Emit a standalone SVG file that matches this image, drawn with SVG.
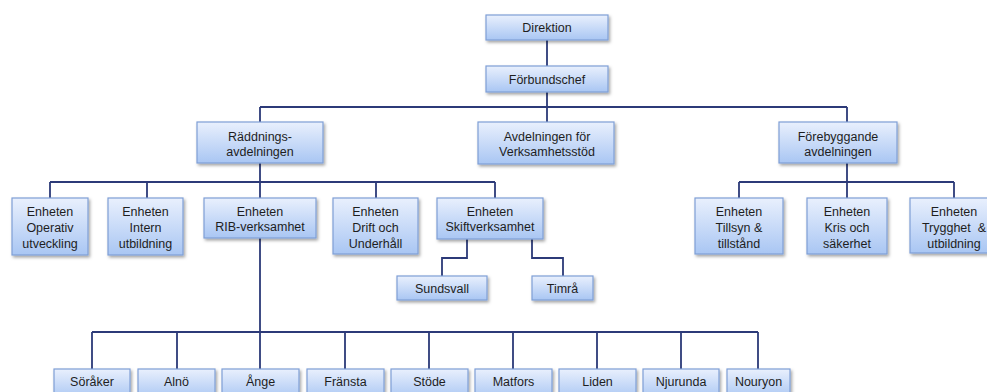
<svg xmlns="http://www.w3.org/2000/svg" width="987" height="392" viewBox="0 0 987 392">
<defs>
<linearGradient id="g" x1="0" y1="0" x2="0" y2="1">
<stop offset="0" stop-color="#e9f0fd"/>
<stop offset="1" stop-color="#a9c6f3"/>
</linearGradient>
<filter id="sh" x="-10%" y="-10%" width="130%" height="140%">
<feDropShadow dx="1.5" dy="2" stdDeviation="1.5" flood-color="#000" flood-opacity="0.35"/>
</filter>
</defs>
<style>
.b{fill:url(#g);stroke:#7f9fd6;stroke-width:1.2;filter:url(#sh)}
.t{font-family:"Liberation Sans",Arial,sans-serif;font-size:12.5px;fill:#1e1e1e;text-anchor:middle}
.c{fill:none;stroke:#2c3a78;stroke-width:1.8}
</style>
<rect width="987" height="392" fill="#fff"/>
<g id="connectors" class="c">
<path d="M547 40V66M547 92V107M260 107H847M260 107V122M547 107V122M847 107V122"/>
<path d="M260 163V182M50 182H495M50 182V198M147 182V198M260 182V198M376 182V198M495 182V198"/>
<path d="M467 239V258H442V276M532 239V258H563V276"/>
<path d="M847 163V182M739 182H954M739 182V198M847 182V198M954 182V198"/>
<path d="M260 238V332M92 332H758M92 332V369M177 332V369M260 332V369M345 332V369M429 332V369M513 332V369M597 332V369M681 332V369M758 332V369"/>
</g>
<g id="direktion"><rect class="b" x="486" y="15" width="122" height="25"/><text class="t" x="547" y="32">Direktion</text></g>
<g id="forbundschef"><rect class="b" x="486" y="66" width="122" height="26"/><text class="t" x="547" y="83.5">Förbundschef</text></g>
<g id="raddning"><rect class="b" x="197" y="122" width="126" height="41"/><text class="t" x="260" y="141">Räddnings-</text><text class="t" x="260" y="156">avdelningen</text></g>
<g id="verksamhetsstod"><rect class="b" x="478" y="122" width="136" height="42"/><text class="t" x="547" y="141">Avdelningen för</text><text class="t" x="547" y="156">Verksamhetsstöd</text></g>
<g id="forebyggande"><rect class="b" x="779" y="122" width="118" height="41"/><text class="t" x="838" y="141">Förebyggande</text><text class="t" x="838" y="156">avdelningen</text></g>
<g id="operativ"><rect class="b" x="12" y="198" width="76" height="57"/><text class="t" x="50" y="216">Enheten</text><text class="t" x="50" y="232">Operativ</text><text class="t" x="50" y="248">utveckling</text></g>
<g id="intern"><rect class="b" x="108" y="198" width="75" height="57"/><text class="t" x="145.5" y="216">Enheten</text><text class="t" x="145.5" y="232">Intern</text><text class="t" x="145.5" y="248">utbildning</text></g>
<g id="rib"><rect class="b" x="204" y="198" width="112" height="40"/><text class="t" x="260" y="216">Enheten</text><text class="t" x="260" y="231">RIB-verksamhet</text></g>
<g id="drift"><rect class="b" x="333" y="198" width="85" height="56"/><text class="t" x="375.5" y="216">Enheten</text><text class="t" x="375.5" y="232">Drift och</text><text class="t" x="375.5" y="248">Underhåll</text></g>
<g id="skift"><rect class="b" x="437" y="198" width="106" height="41"/><text class="t" x="490" y="216">Enheten</text><text class="t" x="490" y="231">Skiftverksamhet</text></g>
<g id="sundsvall"><rect class="b" x="397" y="276" width="90" height="24"/><text class="t" x="442" y="292.5">Sundsvall</text></g>
<g id="timra"><rect class="b" x="532" y="276" width="61" height="24"/><text class="t" x="562.5" y="292.5">Timrå</text></g>
<g id="tillsyn"><rect class="b" x="695" y="198" width="88" height="56"/><text class="t" x="739" y="216">Enheten</text><text class="t" x="739" y="232">Tillsyn &amp;</text><text class="t" x="739" y="248">tillstånd</text></g>
<g id="kris"><rect class="b" x="807" y="198" width="80" height="56"/><text class="t" x="847" y="216">Enheten</text><text class="t" x="847" y="232">Kris och</text><text class="t" x="847" y="248">säkerhet</text></g>
<g id="trygghet"><rect class="b" x="910" y="198" width="88" height="55"/><text class="t" x="954" y="216">Enheten</text><text class="t" x="954" y="232">Trygghet &#160;&amp;</text><text class="t" x="954" y="248">utbildning</text></g>
<g id="soraker"><rect class="b" x="54" y="369" width="76" height="30"/><text class="t" x="92" y="385.5">Söråker</text></g>
<g id="alno"><rect class="b" x="138" y="369" width="77" height="30"/><text class="t" x="176.5" y="385.5">Alnö</text></g>
<g id="ange"><rect class="b" x="222" y="369" width="77" height="30"/><text class="t" x="260.5" y="385.5">Ånge</text></g>
<g id="fransta"><rect class="b" x="307" y="369" width="77" height="30"/><text class="t" x="345.5" y="385.5">Fränsta</text></g>
<g id="stode"><rect class="b" x="391" y="369" width="77" height="30"/><text class="t" x="429.5" y="385.5">Stöde</text></g>
<g id="matfors"><rect class="b" x="475" y="369" width="77" height="30"/><text class="t" x="513.5" y="385.5">Matfors</text></g>
<g id="liden"><rect class="b" x="559" y="369" width="77" height="30"/><text class="t" x="597.5" y="385.5">Liden</text></g>
<g id="njurunda"><rect class="b" x="643" y="369" width="76" height="30"/><text class="t" x="681" y="385.5">Njurunda</text></g>
<g id="nouryon"><rect class="b" x="727" y="369" width="63" height="30"/><text class="t" x="758.5" y="385.5">Nouryon</text></g>
</svg>
